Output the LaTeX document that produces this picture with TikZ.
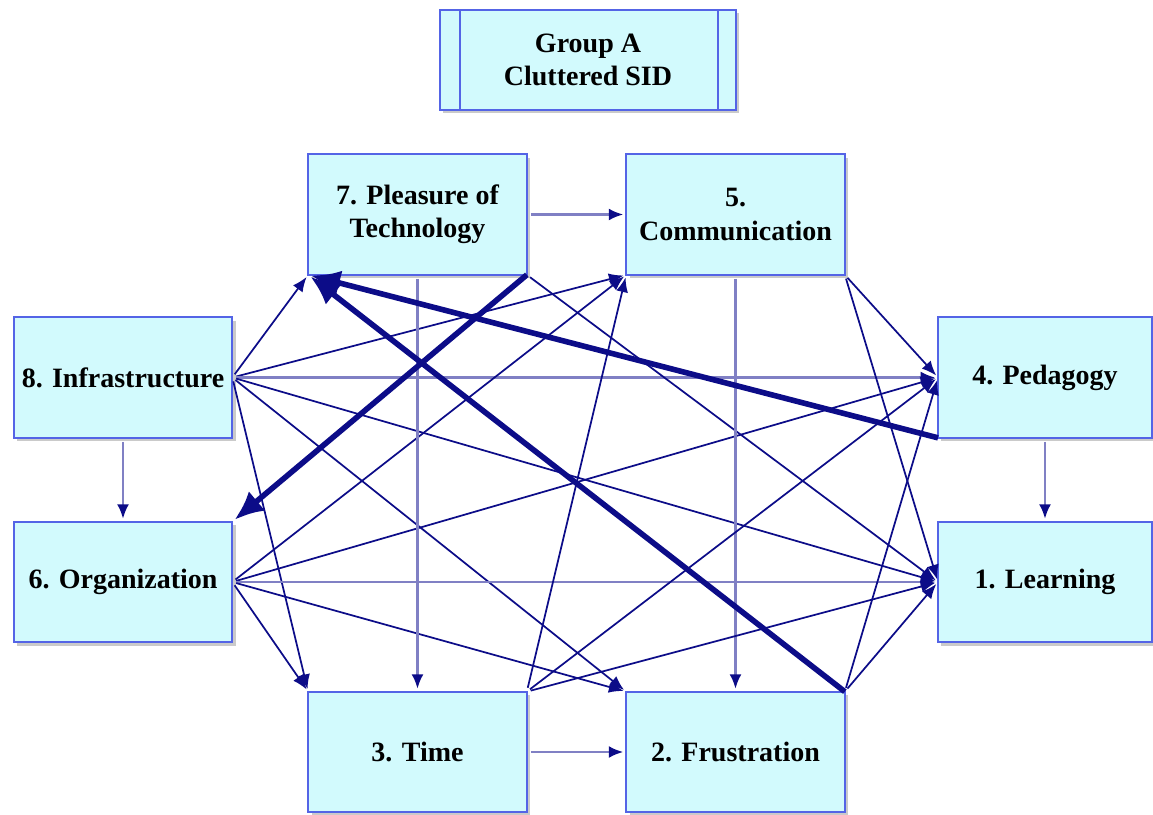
\documentclass[tikz,border=0pt]{standalone}
\usepackage{fontspec}
\setmainfont{Liberation Serif}
\usetikzlibrary{arrows.meta,shadows}
\definecolor{edgenavy}{RGB}{12,12,136}
\definecolor{axisline}{RGB}{128,128,196}
\definecolor{boxfill}{RGB}{210,250,253}
\definecolor{boxline}{RGB}{84,100,230}

\begin{document}
\begin{tikzpicture}[x=0.75pt,y=-0.75pt,
  factor/.style={rectangle, draw=boxline, fill=boxfill, line width=1.5pt,
    minimum width=164pt, minimum height=90.5pt, inner sep=0pt, outer sep=0pt,
    align=center, font=\bfseries\fontsize{21}{25}\selectfont,
    drop shadow={shadow xshift=2.5pt, shadow yshift=-2.5pt, opacity=0.35, fill=black!60}},
  link/.style={draw=edgenavy, line width=1.3pt,
    -{Latex[length=11pt,width=9pt]}, shorten >=2pt, shorten <=3pt},
  axis/.style={draw=axisline, line width=2.1pt,
    -{Latex[length=11pt,width=9pt,color=edgenavy]}, shorten >=2pt, shorten <=3pt},
  heavy/.style={draw=edgenavy, line width=4.2pt,
    -{Latex[length=22pt,width=19pt]}, shorten >=2pt}
]
\useasboundingbox (0,0) rectangle (1153,814);

% title box with double side bars
\node[factor, minimum width=222pt, minimum height=75pt] (title) at (588,60) {Group A\\Cluttered SID};
\draw[boxline, line width=1.5pt] ([xshift=15pt]title.north west) -- ([xshift=15pt]title.south west);
\draw[boxline, line width=1.5pt] ([xshift=-13.5pt]title.north east) -- ([xshift=-13.5pt]title.south east);

% factors
\node[factor] (n7) at (417.5,214.5) {7. Pleasure of\\Technology};
\node[factor] (n5) at (735.5,214.5) {5.\\Communication};
\node[factor] (n8) at (123,377.5) {8. Infrastructure};
\node[factor] (n6) at (123,582) {6. Organization};
\node[factor, minimum width=160.5pt] (n4) at (1045,377.5) {4. Pedagogy};
\node[factor, minimum width=160.5pt] (n1) at (1045,582) {1. Learning};
\node[factor] (n3) at (417.5,752) {3. Time};
\node[factor] (n2) at (735.5,752) {2. Frustration};

% influences from 8
\draw[link] (n8.east) -- (n7.south west);
\draw[link] (n8.east) -- (n5.south west);
\draw[axis] (n8.east) -- (n4.west);
\draw[link] (n8.east) -- (n1.west);
\draw[link] (n8.east) -- (n2.north west);
\draw[link] (n8.east) -- (n3.north west);
\draw[axis] (n8.south) -- (n6.north);
% influences from 6
\draw[link] (n6.east) -- (n5.south west);
\draw[link] (n6.east) -- (n4.west);
\draw[axis] (n6.east) -- (n1.west);
\draw[link] (n6.east) -- (n2.north west);
\draw[link] (n6.east) -- (n3.north west);
% influences from 7
\draw[axis] (n7.east) -- (n5.west);
\draw[axis] (n7.south) -- (n3.north);
\draw[link] (n7.south east) -- (n1.west);
% influences from 5
\draw[link] (n5.south east) -- (n4.west);
\draw[link] (n5.south east) -- (n1.west);
\draw[axis] (n5.south) -- (n2.north);
% influences from 3
\draw[link] (n3.north east) -- (n5.south west);
\draw[link] (n3.north east) -- (n4.west);
\draw[link] (n3.north east) -- (n1.west);
\draw[axis] (n3.east) -- (n2.west);
% influences from 2
\draw[link] (n2.north east) -- (n4.west);
\draw[link] (n2.north east) -- (n1.west);
% influences from 4
\draw[axis] (n4.south) -- (n1.north);

% strong influences
\draw[heavy] (n4.south west) -- (n7.south west);
\draw[heavy] (n2.north east) -- (n7.south west);
\draw[heavy] (n7.south east) -- (n6.north east);
\end{tikzpicture}
\end{document}
